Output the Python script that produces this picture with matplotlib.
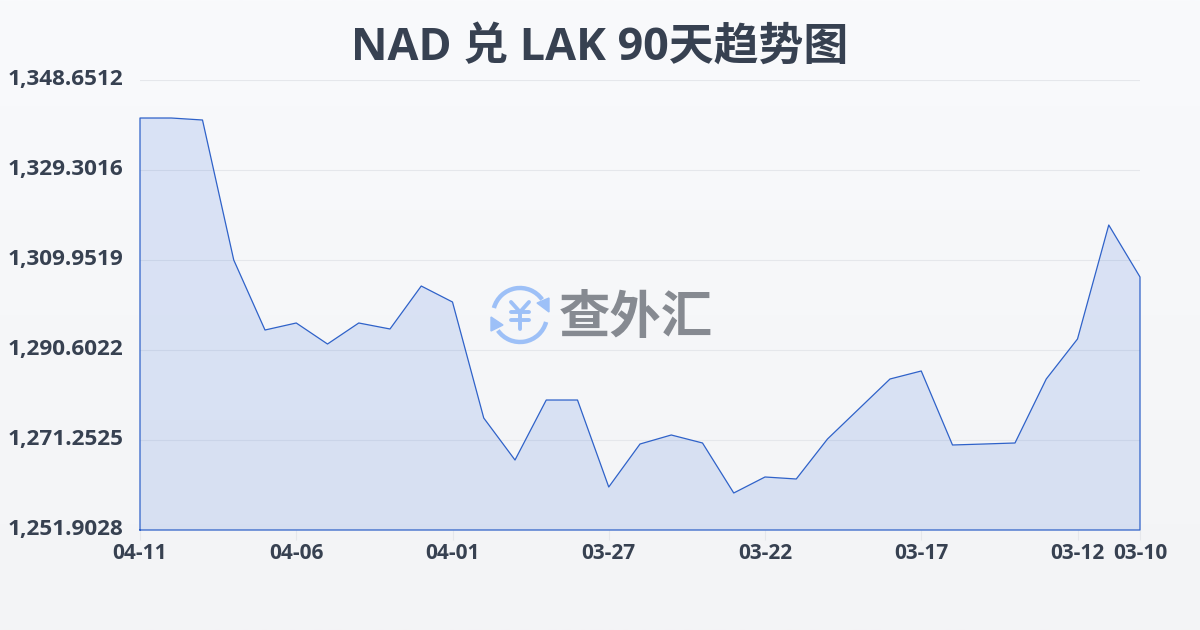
#!/usr/bin/env python
# -*- coding: utf-8 -*-

import matplotlib
matplotlib.use("Agg")
import matplotlib.pyplot as plt
import numpy as np
from matplotlib.patches import Arc, Polygon

plt.rcParams['font.family'] = ['Open Sans', 'Noto Sans CJK SC', 'DejaVu Sans']

rates = [1340.48, 1340.48, 1340.05, 1309.95, 1294.90, 1296.41, 1291.89,
         1296.41, 1295.12, 1304.36, 1300.92, 1275.98, 1266.95, 1279.85,
         1279.85, 1261.15, 1270.39, 1272.33, 1270.61, 1259.86, 1263.30,
         1262.87, 1271.47, 1277.92, 1284.37, 1286.09, 1270.18, 1270.39,
         1270.61, 1284.37, 1292.97, 1317.48, 1306.30]
tick_pos = [0, 5, 10, 15, 20, 25, 30, 32]
tick_labels = ["04-11", "04-06", "04-01", "03-27", "03-22", "03-17", "03-12", "03-10"]
y_ticks = [1251.9028, 1271.2525, 1290.6022, 1309.9519, 1329.3016, 1348.6512]
y_labels = ["1,251.9028", "1,271.2525", "1,290.6022", "1,309.9519", "1,329.3016", "1,348.6512"]

TEXT = "#374151"
LINE = "#2f62c9"
GRID = "#e5e7eb"

fig = plt.figure(figsize=(12, 6.3), dpi=100)

# page background, pale vertical gradient
bg = fig.add_axes([0, 0, 1, 1], zorder=0)
bg.imshow(np.linspace(0, 1, 256).reshape(-1, 1), aspect="auto", extent=(0, 1200, 630, 0),
          cmap=matplotlib.colors.LinearSegmentedColormap.from_list("bg", ["#f9fafc", "#f3f4f6"]))
bg.set_xlim(0, 1200)
bg.set_ylim(630, 0)
bg.axis("off")

ax = fig.add_axes([140/1200., 100/630., 1000/1200., 450/630.], zorder=1)
ax.patch.set_alpha(0)
x = np.arange(len(rates))
ax.set_xlim(0, 32)
ax.set_ylim(y_ticks[0], y_ticks[-1])

ax.set_yticks(y_ticks)
ax.set_yticklabels(y_labels, fontsize=16.2, fontweight="bold", color=TEXT, va="center")
ax.set_xticks(tick_pos)
ax.set_xticklabels(tick_labels, fontsize=15, fontweight="bold", color=TEXT)
ax.tick_params(axis="y", length=0, pad=12)
ax.tick_params(axis="x", length=7, width=0.8, color=GRID, pad=2.5)
ax.grid(axis="y", color=GRID, lw=0.8)
ax.set_axisbelow(True)
for s in ax.spines.values():
    s.set_visible(False)

# filled area, its outline runs down the sides and along the base too
ax.fill_between(x, rates, y_ticks[0], facecolor="#2f66d8", alpha=0.145, lw=0, zorder=2)
outline_x = [0] + list(x) + [32, 0]
outline_y = [y_ticks[0]] + rates + [y_ticks[0], y_ticks[0]]
ax.plot(outline_x, outline_y, color=LINE, lw=0.9, zorder=3, clip_on=False)

fig.text(0.5, 1 - 48/630., u"NAD 兑 LAK 90天趋势图", ha="center", va="center",
         fontsize=32.3, fontweight="bold", color=TEXT, zorder=5)

# watermark logo
logo = fig.add_axes([0, 0, 1, 1], zorder=4)
logo.set_xlim(0, 1200)
logo.set_ylim(630, 0)
logo.axis("off")
BLUE = "#9dc0f7"
logo.add_patch(Arc((520, 315), 54, 54, theta1=195, theta2=325, color=BLUE, lw=3.2))
logo.add_patch(Arc((520, 315), 54, 54, theta1=15, theta2=145, color=BLUE, lw=3.2))
logo.add_patch(Polygon([[549, 298], [549, 312], [537, 303]], color=BLUE))
logo.add_patch(Polygon([[491, 317], [491, 331], [503, 325]], color=BLUE))
# yen sign, rounded strokes
for seg_x, seg_y in [([511, 520, 529], [302, 312, 302]), ([511, 529], [312, 312]),
                     ([511, 529], [320, 320]), ([520, 520], [312, 329])]:
    logo.plot(seg_x, seg_y, color=BLUE, lw=2.8, solid_capstyle="round", solid_joinstyle="round")
logo.text(636, 318, u"查外汇", ha="center", va="center", fontsize=37, fontweight="bold",
          color="#868a91", family=['Noto Sans CJK SC', 'DejaVu Sans'])

fig.savefig("out.png", dpi=100)
